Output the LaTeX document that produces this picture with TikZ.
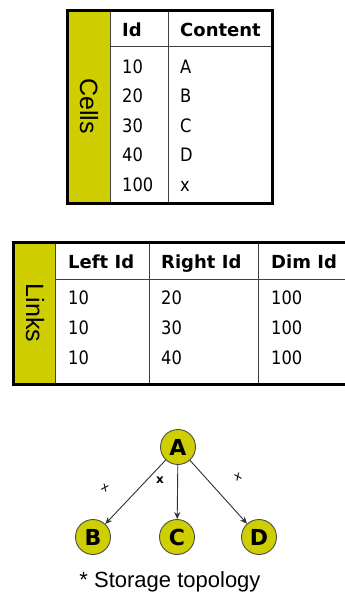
\documentclass[tikz,border=0pt]{standalone}
\usepackage{fontspec}
\setmainfont{DejaVu Sans}
\newfontfamily\arialf{Liberation Sans}
\newfontfamily\tabf[FakeStretch=0.88]{DejaVu Sans}
\usetikzlibrary{arrows.meta}
\definecolor{band}{RGB}{206,206,0}
\definecolor{edgec}{RGB}{50,50,50}
\tikzset{
  cell/.style={anchor=base west,inner sep=0pt,font=\tabf\fontsize{18.5}{18}\selectfont},
  head/.style={anchor=base west,inner sep=0pt,font=\fontsize{18}{18}\selectfont\bfseries},
  sidelab/.style={rotate=-90,inner sep=0pt,font=\arialf\fontsize{25}{25}\selectfont},
  gnode/.style={circle,draw=black!70,line width=0.9pt,fill=band,minimum size=35pt,inner sep=0pt,font=\bfseries\fontsize{22}{22}\selectfont},
  elab/.style={inner sep=0pt,font=\fontsize{12}{12}\selectfont},
  garrow/.style={draw=edgec,line width=0.9pt,-{Stealth[length=7pt,width=6pt]}},
  outer/.style={draw=black,line width=3pt},
  thin/.style={draw=black!75,line width=0.9pt},
}
\begin{document}
\begin{tikzpicture}[x=1pt,y=-1pt]
\useasboundingbox (0,0) rectangle (345,597);
\fill[white] (0,0) rectangle (345,597);
\clip (0,0) rectangle (345,597);
% Cells table
\fill[band] (67,10) rectangle (110,203);
\draw[thin] (110,10) -- (110,203);
\draw[thin] (168,10) -- (168,203);
\draw[thin] (110,46) -- (272,46);
\draw[outer] (67,10) rectangle (272,203);
\node[sidelab] (cellslab) at (89,106) {Cells};
\node[head] (hid) at (122,36) {Id};
\node[head] (hcont) at (180,36) {Content};
\node[cell] (c1a) at (122,73) {10};
\node[cell] (c1b) at (180,73) {A};
\node[cell] (c2a) at (122,102.5) {20};
\node[cell] (c2b) at (180,102.5) {B};
\node[cell] (c3a) at (122,132) {30};
\node[cell] (c3b) at (180,132) {C};
\node[cell] (c4a) at (122,161.5) {40};
\node[cell] (c4b) at (180,161.5) {D};
\node[cell] (c5a) at (122,191) {100};
\node[cell] (c5b) at (180,191) {x};
% Links table
\fill[band] (13,242) rectangle (55,384);
\draw[thin] (55,242) -- (55,384);
\draw[thin] (149,242) -- (149,384);
\draw[thin] (258,242) -- (258,384);
\draw[thin] (55,279) -- (360,279);
\draw[outer] (13,242) rectangle (360,384);
\node[sidelab] (linkslab) at (35,313) {Links};
\node[head] (hl) at (68,268) {Left Id};
\node[head] (hr) at (161,268) {Right Id};
\node[head] (hd) at (271,268) {Dim Id};
\node[cell] (l1a) at (68,304) {10};
\node[cell] (l1b) at (161,304) {20};
\node[cell] (l1c) at (271,304) {100};
\node[cell] (l2a) at (68,334) {10};
\node[cell] (l2b) at (161,334) {30};
\node[cell] (l2c) at (271,334) {100};
\node[cell] (l3a) at (68,364) {10};
\node[cell] (l3b) at (161,364) {40};
\node[cell] (l3c) at (271,364) {100};
% Graph
\node[gnode] (A) at (178,447) {A};
\node[gnode] (B) at (93,537) {B};
\node[gnode] (C) at (177,537) {C};
\node[gnode] (D) at (259,537) {D};
\draw[garrow] (A) -- (B);
\draw[garrow] (A) -- (C);
\draw[garrow] (A) -- (D);
\node[elab,rotate=-25] (x1) at (105,488) {x};
\node[elab,font=\fontsize{12}{12}\selectfont\bfseries] (x2) at (160,480) {x};
\node[elab,rotate=25] (x3) at (238,477) {x};
\node[inner sep=0pt,font=\arialf\fontsize{22}{22}\selectfont] (cap) at (170,582) {* Storage topology};
\end{tikzpicture}
\end{document}
